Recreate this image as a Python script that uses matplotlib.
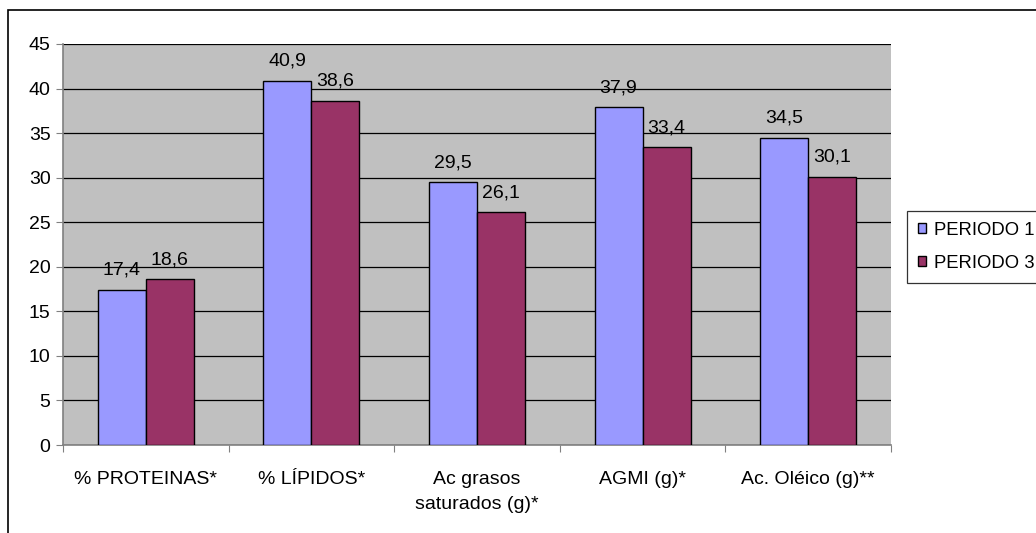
import matplotlib
matplotlib.use("Agg")
import matplotlib.pyplot as plt
from matplotlib.patches import Patch, Rectangle
import numpy as np

categorias = ["% PROTEINAS*", "% LÍPIDOS*", "Ac grasos\nsaturados (g)*",
              "AGMI (g)*", "Ac. Oléico (g)**"]
periodo1 = [17.4, 40.9, 29.5, 37.9, 34.5]
periodo3 = [18.6, 38.6, 26.1, 33.4, 30.1]
series = ["PERIODO 1", "PERIODO 3"]
colores = ["#9999FF", "#993366"]

plt.rcParams["font.family"] = ["Liberation Sans", "DejaVu Sans"]
plt.rcParams["font.size"] = 14

fig = plt.figure(figsize=(10.36, 5.33), dpi=100)
W, H = 1036, 533
# marco exterior del grafico
fig.patches.append(Rectangle((8 / W, -0.1), 1.1, 1 - 10 / H + 0.1,
                             transform=fig.transFigure, fill=False,
                             edgecolor="black", linewidth=1.2))
ax = fig.add_axes([63 / W, 1 - 445 / H, (891 - 63) / W, (445 - 44) / H])
ax.set_facecolor("#C0C0C0")

x = np.arange(len(categorias))
w = 0.29
for i, (vals, nom, col) in enumerate(zip([periodo1, periodo3], series, colores)):
    pos = x + (i - 0.5) * w
    ax.bar(pos, vals, width=w, color=col, edgecolor="black", linewidth=1.0,
           label=nom, zorder=3)
    for p, v in zip(pos, vals):
        ax.annotate(f"{v:.1f}".replace(".", ","), (p, v), xytext=(0, 8),
                    textcoords="offset points", ha="center", va="bottom",
                    fontsize=14)

ax.set_ylim(0, 45)
ax.set_xlim(-0.5, len(categorias) - 0.5)
ax.set_yticks(range(0, 46, 5))
ax.yaxis.grid(True, color="black", linewidth=0.9, zorder=1)
ax.set_axisbelow(True)
ax.set_xticks(np.arange(-0.5, len(categorias), 1.0))
ax.set_xticklabels([])
ax.set_xticks(x, minor=True)
ax.set_xticklabels(categorias, minor=True, linespacing=1.6)
ax.tick_params(axis="x", which="minor", length=0, pad=19)
ax.tick_params(axis="x", which="major", length=5, color="#808080", direction="out")
ax.tick_params(axis="y", length=5, color="#808080", direction="out", pad=4)
for s in ["top", "right"]:
    ax.spines[s].set_visible(False)
for s in ["left", "bottom"]:
    ax.spines[s].set_color("#808080")
    ax.spines[s].set_linewidth(1.2)

handles = [Patch(facecolor=c, edgecolor="black", label=n) for c, n in zip(colores, series)]
leg = fig.legend(handles=handles, loc="upper left",
                 bbox_to_anchor=(907 / W, 1 - 211 / H), frameon=True,
                 fancybox=False, edgecolor="black", handlelength=0.47,
                 handleheight=0.47, handletextpad=0.4, borderpad=0.58,
                 borderaxespad=0, labelspacing=0.88, fontsize=13.3)
leg.get_frame().set_linewidth(0.9)

fig.savefig("out.png", dpi=100)
